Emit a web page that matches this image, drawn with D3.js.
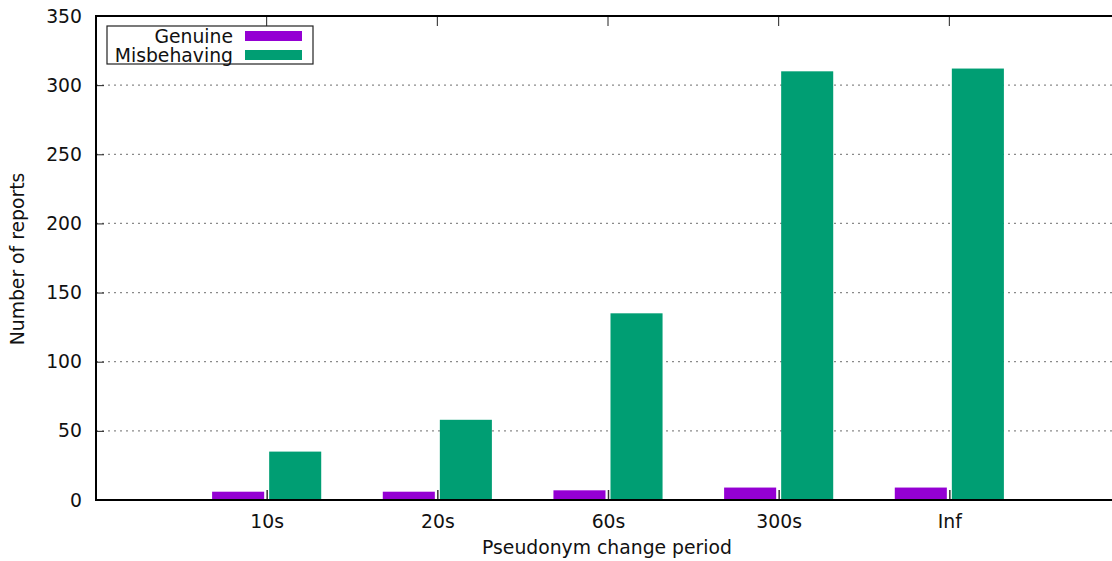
<!DOCTYPE html>
<html>
<head>
<meta charset="utf-8">
<script src="https://cdn.jsdelivr.net/npm/d3@7"></script>
<style>
  body { margin: 0; background: #fff; }
  text { font-family: "DejaVu Sans", sans-serif; }
</style>
</head>
<body>
<div id="chart-area"></div>
<script>
// data
var periods = ["10s", "20s", "60s", "300s", "Inf"];
var genuine = [6, 6, 7, 9, 9];
var misbehaving = [35, 58, 135, 310, 312];
var yTicks = [0, 50, 100, 150, 200, 250, 300, 350];
var seriesNames = ["Genuine", "Misbehaving"];
var seriesColors = ["#9400d3", "#009e73"];

var W = 1112, H = 561;
var plot = { left: 96, right: 1120, top: 16, bottom: 500 };
var fs = "18.8px";

var svg = d3.select("#chart-area")
  .append("svg")
    .attr("width", W)
    .attr("height", H);

var x = d3.scalePoint()
  .domain(periods)
  .range([plot.left, plot.right])
  .padding(1);

var y = d3.scaleLinear()
  .domain([0, 350])
  .range([plot.bottom, plot.top]);

// grid lines
svg.append("g")
  .selectAll("line")
  .data(yTicks.filter(function(d) { return d > 0 && d < 350; }))
  .enter().append("line")
    .attr("x1", plot.left)
    .attr("x2", plot.right)
    .attr("y1", function(d) { return y(d); })
    .attr("y2", function(d) { return y(d); })
    .attr("stroke", "#8a8a8a")
    .attr("stroke-width", 1.2)
    .attr("stroke-dasharray", "2,4");

// bars
var step = x.step();
var bw = step * 0.305, gap = 2.5;
var rows = periods.map(function(p, i) {
  return { p: p, g: genuine[i], m: misbehaving[i] };
});

svg.append("g").selectAll("rect")
  .data(rows)
  .enter().append("rect")
    .attr("x", function(d) { return x(d.p) - gap - bw; })
    .attr("width", bw)
    .attr("y", function(d) { return y(d.g); })
    .attr("height", function(d) { return y(0) - y(d.g); })
    .attr("fill", seriesColors[0]);

svg.append("g").selectAll("rect")
  .data(rows)
  .enter().append("rect")
    .attr("x", function(d) { return x(d.p) + gap; })
    .attr("width", bw)
    .attr("y", function(d) { return y(d.m); })
    .attr("height", function(d) { return y(0) - y(d.m); })
    .attr("fill", seriesColors[1]);

// axes
var yAxis = d3.axisLeft(y).tickValues(yTicks).tickSizeInner(-8).tickSizeOuter(0).tickPadding(14);
svg.append("g")
  .attr("transform", "translate(" + plot.left + ",0)")
  .call(yAxis)
  .call(function(g) {
    g.select(".domain").remove();
    g.selectAll("line").attr("stroke", "#222");
    g.selectAll("text").attr("font-size", fs).attr("fill", "#111");
  });

var xAxis = d3.axisBottom(x).tickSizeInner(-10).tickSizeOuter(0).tickPadding(15);
svg.append("g")
  .attr("transform", "translate(0," + plot.bottom + ")")
  .call(xAxis)
  .call(function(g) {
    g.select(".domain").remove();
    g.selectAll("line").attr("stroke", "#333").attr("stroke-width", 1.5);
    g.selectAll("text").attr("font-size", fs).attr("fill", "#111");
  });

// top mirror ticks
svg.append("g").selectAll("line")
  .data(periods)
  .enter().append("line")
    .attr("x1", function(d) { return x(d); })
    .attr("x2", function(d) { return x(d); })
    .attr("y1", plot.top)
    .attr("y2", plot.top + 10)
    .attr("stroke", "#222");

// border
svg.append("rect")
  .attr("x", plot.left)
  .attr("y", plot.top)
  .attr("width", plot.right - plot.left)
  .attr("height", plot.bottom - plot.top)
  .attr("fill", "none")
  .attr("stroke", "#000")
  .attr("stroke-width", 2);

// axis labels
svg.append("text")
  .attr("x", (plot.left + W) / 2 + 3)
  .attr("y", 554)
  .attr("font-size", fs)
  .attr("text-anchor", "middle")
  .attr("fill", "#111")
  .text("Pseudonym change period");

svg.append("text")
  .attr("transform", "translate(24," + (plot.top + plot.bottom + 2) / 2 + ") rotate(-90)")
  .attr("font-size", fs)
  .attr("text-anchor", "middle")
  .attr("fill", "#111")
  .text("Number of reports");

// legend
var legend = svg.append("g");
legend.append("rect")
  .attr("x", 107)
  .attr("y", 26)
  .attr("width", 206)
  .attr("height", 38)
  .attr("fill", "#fff")
  .attr("stroke", "#222")
  .attr("stroke-width", 1.2);

seriesNames.forEach(function(name, i) {
  var cy = 36 + i * 19;
  legend.append("text")
    .attr("x", 233)
    .attr("y", cy)
    .attr("dy", "0.35em")
    .attr("text-anchor", "end")
    .attr("font-size", fs)
    .attr("fill", "#111")
    .text(name);
  legend.append("rect")
    .attr("x", 245)
    .attr("y", cy - 5)
    .attr("width", 57)
    .attr("height", 10)
    .attr("fill", seriesColors[i]);
});
</script>
</body>
</html>
